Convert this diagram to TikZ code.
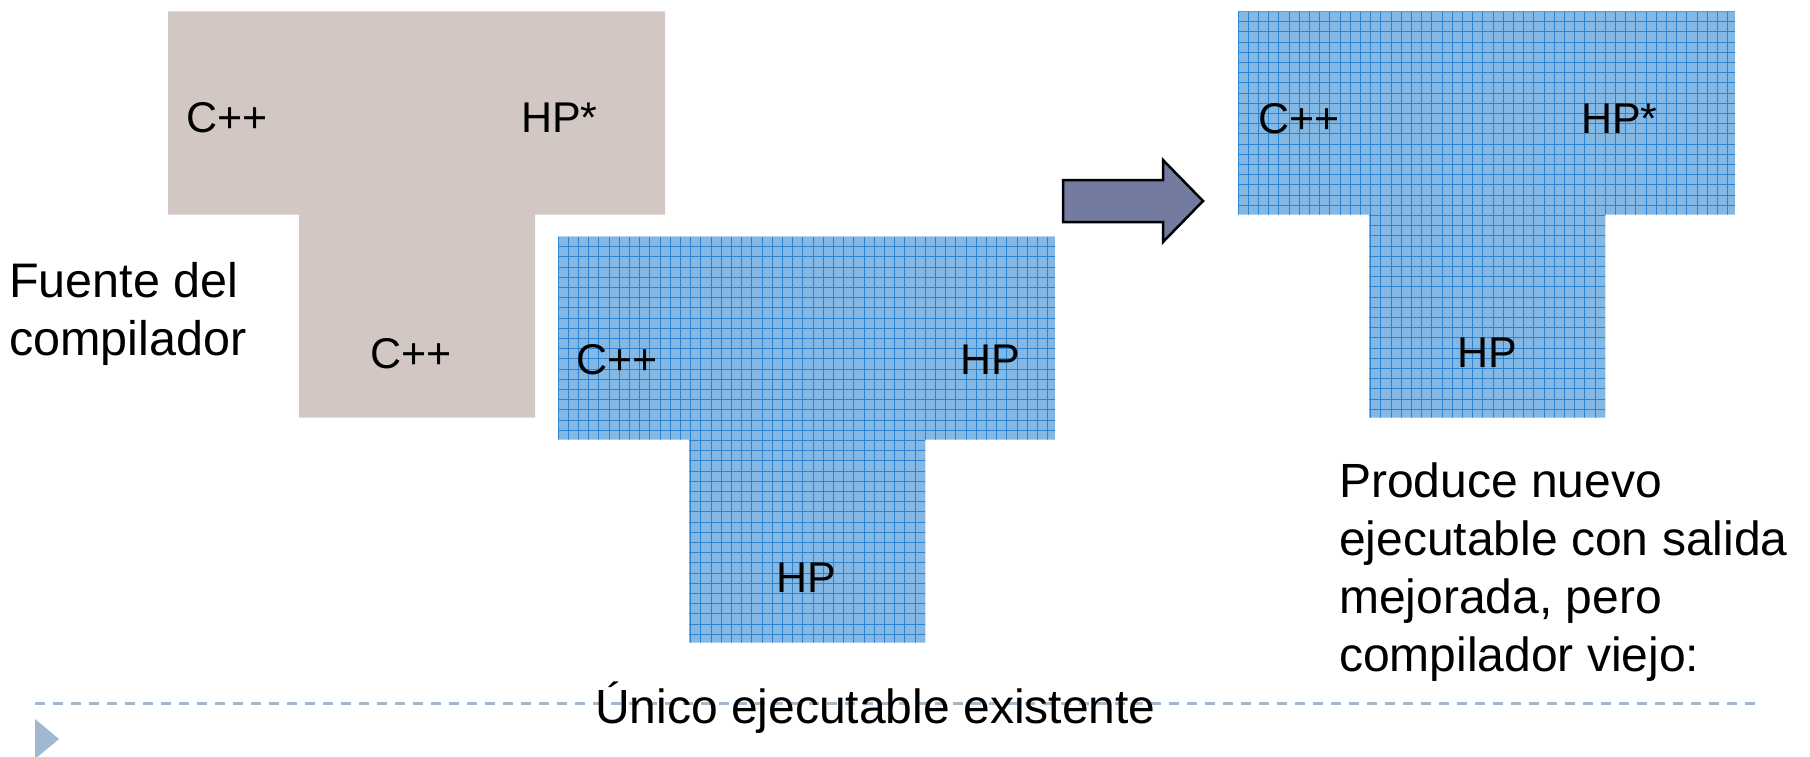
\documentclass[tikz,border=0pt]{standalone}
\usepackage{fontspec}
\setmainfont{Liberation Sans}
\usepackage{tikz}
\usepackage{xcolor}
\usetikzlibrary{positioning}

\definecolor{beige}{RGB}{211,199,195}
\definecolor{teefill}{RGB}{132,184,228}
\definecolor{teeline}{RGB}{44,131,208}
\definecolor{arrowgray}{RGB}{115,123,160}
\definecolor{rulegray}{RGB}{160,184,208}

\begin{document}
\begin{tikzpicture}[x=1pt, y=-1pt,
  lbl/.style={anchor=base west, inner sep=0pt, font=\fontsize{43}{50}\selectfont},
  txt/.style={anchor=north west, inner sep=0pt, align=left, font=\fontsize{48}{58}\selectfont},
  gline/.style={draw=teeline, line width=1pt}]
\useasboundingbox (0,0) rectangle (1810,757);

% Source of the compiler - plain T
\fill[beige] (168,11.5) -- ++(497,0) -- ++(0,203) -- ++(-130,0) -- ++(0,203)
  -- ++(-236,0) -- ++(0,-203) -- ++(-131,0) -- cycle;

% Executables - gridded T's
\foreach \L/\T in {558/236.5, 1238/11.5} {
  \begin{scope}
    \clip (\L,\T) -- ++(497,0) -- ++(0,203) -- ++(-130,0) -- ++(0,203)
      -- ++(-236,0) -- ++(0,-203) -- ++(-131,0) -- cycle;
    \fill[teefill] (\L,\T) rectangle ++(497,406);
    \foreach \k in {0,...,48} \draw[gline] (\L+\k*10.2,\T) -- ++(0,406);
    \foreach \k in {0,...,39} \draw[gline] (\L,\T+\k*10.2) -- ++(497,0);
  \end{scope}
}

% Labels - left T
\node[lbl] (srcin) at (186,133) {C++};
\node[lbl] (srcout) at (521,133) {HP*};
\node[lbl] (srcimpl) at (370,368) {C++};

% Labels - middle T
\node[lbl] (oldin) at (576,374) {C++};
\node[lbl] (oldout) at (960,374) {HP};
\node[lbl] (oldimpl) at (776,592) {HP};

% Labels - right T
\node[lbl] (newin) at (1258,134) {C++};
\node[lbl] (newout) at (1581,134) {HP*};
\node[lbl] (newimpl) at (1457,367) {HP};

% Block arrow
\draw[fill=arrowgray, line width=2.5pt, line join=miter]
  (1063,180) -- (1163,180) -- (1163,160) -- (1203,201) -- (1163,242)
  -- (1163,222) -- (1063,222) -- cycle;

% Texts
\node[txt, font=\fontsize{48.5}{58}\selectfont] (source) at (9,262.5) {Fuente del\\compilador};
\node[txt] (result) at (1339,463) {Produce nuevo\\ejecutable con salida\\mejorada, pero\\compilador viejo:};

% Bottom rule and bullet
\draw[rulegray, line width=3pt, dash pattern=on 10pt off 8pt] (35,703) -- (1762,703);
\node[anchor=base west, inner sep=0pt, font=\fontsize{48}{58}\selectfont] (only) at (595,723) {Único ejecutable existente};
\fill[rulegray] (35,719) -- (59,739) -- (35,759) -- cycle;
\end{tikzpicture}
\end{document}
